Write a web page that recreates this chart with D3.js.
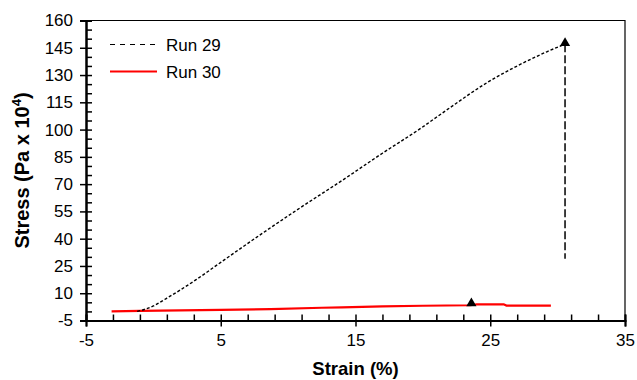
<!DOCTYPE html>
<html>
<head>
<meta charset="utf-8">
<script src="https://cdn.jsdelivr.net/npm/d3@7"></script>
<style>
  body { margin: 0; background: #fff; }
  text { font-family: "Liberation Sans", Arial, sans-serif; }
</style>
</head>
<body>
<div id="chart"></div>
<script>
// Run 29 (black dashed) strain / stress
const run29Strain = [-1.2, -0.5, 0, 1, 2, 3.2, 5, 8, 11, 14, 17, 19.8, 22, 24.8, 27, 29.2, 30.55];
const run29Stress = [0, 1.5, 3, 7.3, 11.8, 17.6, 27, 42.5, 57.5, 72, 87, 100.5, 112, 126, 135, 142.8, 147];
// drop at break
const run29Drop = [[30.55, 147], [30.55, 29]];

// Run 30 (red)
const run30Strain = [-3.1, -1, 0.5, 5, 8.7, 12.5, 14, 17, 20, 23.5, 24, 26, 26.2, 29.5];
const run30Stress = [0, 0.3, 0.4, 0.8, 1.3, 2.0, 2.2, 2.8, 3.1, 3.4, 3.9, 3.9, 3.2, 3.2];

// break markers
const breaks = [[30.55, 147], [23.6, 3.9]];

const xTicks = [-5, 5, 15, 25, 35];
const yTicks = [-5, 10, 25, 40, 55, 70, 85, 100, 115, 130, 145, 160];
const xMinor = d3.range(-5, 35.1, 2);
const yMinor = d3.range(-5, 160.1, 5);

const width = 637, height = 380;
const margin = { top: 20.5, right: 12, bottom: 59.5, left: 86 };

const svg = d3.select("#chart").append("svg")
  .attr("width", width).attr("height", height);

const x = d3.scaleLinear().domain([-5, 35]).range([margin.left, width - margin.right]);
const y = d3.scaleLinear().domain([-5, 160]).range([height - margin.bottom, margin.top]);

// frame (top and right)
svg.append("path")
  .attr("d", `M${x(-5)},${y(160)}H${x(35)}V${y(-5)}`)
  .attr("fill", "none").attr("stroke", "#000").attr("stroke-width", 1.2);

const bottom = y(-5), left = x(-5);

// minor ticks point inward, major ticks cross the axis
svg.append("g")
  .attr("transform", `translate(0,${bottom})`)
  .call(d3.axisBottom(x).tickValues(xMinor).tickSize(-6).tickFormat(""));
svg.append("g")
  .attr("transform", `translate(0,${bottom})`)
  .call(d3.axisBottom(x).tickValues(xTicks).tickSize(6).tickPadding(7).tickFormat(d => d));

svg.append("g")
  .attr("transform", `translate(${left},0)`)
  .call(d3.axisLeft(y).tickValues(yMinor).tickSize(-6).tickFormat(""));
svg.append("g")
  .attr("transform", `translate(${left},0)`)
  .call(d3.axisLeft(y).tickValues(yTicks).tickSize(6).tickPadding(7).tickFormat(d => d));

svg.selectAll(".tick line").attr("stroke", "#000").attr("stroke-width", 1.5);
svg.selectAll(".domain").attr("stroke", "#000").attr("stroke-width", 2);
svg.selectAll(".tick text")
  .attr("font-family", "'Liberation Sans', Arial, sans-serif")
  .attr("font-size", 17).attr("fill", "#000");

// axis titles
svg.append("text")
  .attr("x", (x(-5) + x(35)) / 2).attr("y", 375)
  .attr("text-anchor", "middle").attr("font-size", 18.5).attr("font-weight", "bold")
  .text("Strain (%)");

const yl = svg.append("text")
  .attr("transform", `translate(29,${(y(-5) + y(160)) / 2}) rotate(-90)`)
  .attr("text-anchor", "middle").attr("font-size", 20).attr("font-weight", "bold");
yl.append("tspan").text("Stress (Pa x 10");
yl.append("tspan").attr("font-size", 13).attr("dy", -8).text("4");
yl.append("tspan").attr("dy", 8).text(")");

const smooth = d3.line().x(d => x(d[0])).y(d => y(d[1])).curve(d3.curveMonotoneX);
const straight = d3.line().x(d => x(d[0])).y(d => y(d[1]));

// Run 30
svg.append("path")
  .datum(d3.zip(run30Strain, run30Stress))
  .attr("d", straight)
  .attr("fill", "none").attr("stroke", "#ff0000").attr("stroke-width", 2.2);

// Run 29
svg.append("path")
  .datum(d3.zip(run29Strain, run29Stress))
  .attr("d", smooth)
  .attr("fill", "none").attr("stroke", "#000").attr("stroke-width", 1.4)
  .attr("stroke-dasharray", "3,2");
svg.append("path")
  .datum(run29Drop)
  .attr("d", straight)
  .attr("fill", "none").attr("stroke", "#000").attr("stroke-width", 1.5)
  .attr("stroke-dasharray", "8,3");

// triangles
svg.selectAll(".tri").data(breaks).join("path")
  .attr("class", "tri")
  .attr("transform", d => `translate(${x(d[0])},${y(d[1]) - 1})`)
  .attr("d", d3.symbol(d3.symbolTriangle, 45))
  .attr("fill", "#000");

// legend
const leg = svg.append("g");
leg.append("line").attr("x1", 110).attr("x2", 157).attr("y1", 44.5).attr("y2", 44.5)
  .attr("stroke", "#000").attr("stroke-width", 1.2).attr("stroke-dasharray", "5,5");
leg.append("text").attr("x", 166).attr("y", 50.5).attr("font-size", 17).text("Run 29");
leg.append("line").attr("x1", 110).attr("x2", 157).attr("y1", 71.5).attr("y2", 71.5)
  .attr("stroke", "#ff0000").attr("stroke-width", 2);
leg.append("text").attr("x", 166).attr("y", 77.5).attr("font-size", 17).text("Run 30");
</script>
</body>
</html>
